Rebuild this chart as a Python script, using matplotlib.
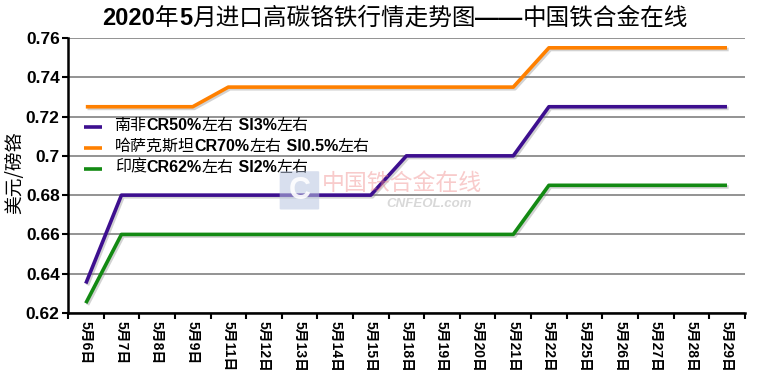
import re
import matplotlib
matplotlib.use("Agg")
import matplotlib.pyplot as plt
import matplotlib.patheffects as pe
from matplotlib.patches import FancyBboxPatch
from matplotlib.lines import Line2D
from matplotlib.offsetbox import TextArea, HPacker, VPacker, DrawingArea, AnchoredOffsetbox

plt.rcParams['font.family'] = ['Liberation Sans', 'Noto Sans CJK SC', 'DejaVu Sans']

dates = ["5月6日", "5月7日", "5月8日", "5月9日", "5月11日", "5月12日", "5月13日",
         "5月14日", "5月15日", "5月18日", "5月19日", "5月20日", "5月21日", "5月22日",
         "5月25日", "5月26日", "5月27日", "5月28日", "5月29日"]
south_africa = [0.635, 0.68, 0.68, 0.68, 0.68, 0.68, 0.68, 0.68, 0.68, 0.70, 0.70,
                0.70, 0.70, 0.725, 0.725, 0.725, 0.725, 0.725, 0.725]
kazakhstan = [0.725, 0.725, 0.725, 0.725, 0.735, 0.735, 0.735, 0.735, 0.735, 0.735,
              0.735, 0.735, 0.735, 0.755, 0.755, 0.755, 0.755, 0.755, 0.755]
india = [0.625, 0.66, 0.66, 0.66, 0.66, 0.66, 0.66, 0.66, 0.66, 0.66, 0.66, 0.66,
         0.66, 0.685, 0.685, 0.685, 0.685, 0.685, 0.685]
series_labels = ["南非CR50%左右 SI3%左右", "哈萨克斯坦CR70%左右 SI0.5%左右", "印度CR62%左右 SI2%左右"]
colors = ["#3d0f8f", "#ff8000", "#138a13"]
yticks = [0.62, 0.64, 0.66, 0.68, 0.70, 0.72, 0.74, 0.76]
ytick_labels = ["0.62", "0.64", "0.66", "0.68", "0.7", "0.72", "0.74", "0.76"]
title = "2020年5月进口高碳铬铁行情走势图——中国铁合金在线"

CJK = r'[\u3000-\u9fff\uff00-\uffef]'
NONCJK = r'[^\u3000-\u9fff\uff00-\uffef]'


def rich(s, size, color='black'):
    runs = re.findall(CJK + r'+|' + NONCJK + r'+', s)
    kids = []
    for r in runs:
        cjk = bool(re.match(CJK, r))
        props = dict(fontsize=size, color=color,
                     family=['Noto Sans CJK SC'] if cjk else ['Liberation Sans'],
                     fontweight='normal' if cjk else 'bold')
        kids.append(TextArea(r, textprops=props))
    return HPacker(children=kids, align='baseline', pad=0, sep=0)


fig = plt.figure(figsize=(7.6, 3.83), dpi=100)
ax = fig.add_axes([0.0895, 0.1828, 0.8905, 0.718])

x = list(range(len(dates)))
shadow = [pe.SimpleLineShadow(offset=(1.2, -1.2), shadow_color='gray', alpha=0.35), pe.Normal()]
for vals, c in zip([south_africa, kazakhstan, india], colors):
    ax.plot(x, vals, color=c, lw=2.6, solid_capstyle='butt', path_effects=shadow, zorder=3)

ax.set_xlim(-0.5, len(dates) - 0.5)
ax.set_ylim(0.62, 0.76)
ax.set_yticks(yticks)
ax.set_yticklabels(ytick_labels, fontweight='bold', fontsize=12.5)
ax.yaxis.grid(True, color='#808080', lw=1.2)
ax.set_axisbelow(True)

ax.set_xticks([i - 0.5 for i in range(len(dates) + 1)], minor=False)
ax.set_xticklabels([])
ax.set_xticks(x, minor=True)
ax.set_xticklabels(dates, minor=True, rotation=-90, fontsize=10, fontweight='bold',
                   va='top', ha='center')
ax.tick_params(axis='x', which='minor', length=0, pad=6)
ax.tick_params(axis='x', which='major', length=4, width=1.5, direction='out')
ax.tick_params(axis='y', length=4, width=1.5, direction='out', pad=2)

for s in ['top', 'right']:
    ax.spines[s].set_visible(False)
ax.spines['left'].set_linewidth(1.8)
ax.spines['bottom'].set_linewidth(1.8)

ax.set_ylabel("美元/磅铬", fontsize=13.5, family=['Noto Sans CJK SC'], va='center')
ax.yaxis.set_label_coords(-0.079, 0.51)

# title with mixed weights
tbox = AnchoredOffsetbox(loc='center', child=rich(title, 17), pad=0, borderpad=0,
                         frameon=False, bbox_to_anchor=(0.52, 0.953),
                         bbox_transform=fig.transFigure)
fig.add_artist(tbox)

# legend
rows = []
for lab, c in zip(series_labels, colors):
    da = DrawingArea(13, 10, 0, 0)
    da.add_artist(Line2D([0, 13], [4, 4], color=c, lw=2.6, solid_capstyle='butt'))
    rows.append(HPacker(children=[da, rich(lab, 11.5)], align='center', pad=0, sep=9))
leg = AnchoredOffsetbox(loc='upper left', child=VPacker(children=rows, align='left', pad=0, sep=2.8),
                        pad=0, borderpad=0, frameon=False,
                        bbox_to_anchor=(84 / 760, 1 - 117 / 383),
                        bbox_transform=fig.transFigure)
ax.add_artist(leg)

# watermark
fig.text(0.529, 0.522, "中国铁合金在线", ha='center', va='center', fontsize=16.5,
         color='#f08c8c', alpha=0.45, family=['Noto Sans CJK SC'], zorder=5)
fig.text(0.565, 0.468, "CNFEOL.com", ha='center', va='center', fontsize=9.5,
         color='#c8c8c8', alpha=0.7, style='italic', fontweight='bold', zorder=5)
box = FancyBboxPatch((0.370, 0.455), 0.048, 0.096, boxstyle="round,pad=0.002",
                     transform=fig.transFigure, facecolor='#b9c6e0', edgecolor='none',
                     alpha=0.55, zorder=5)
fig.add_artist(box)
fig.text(0.394, 0.502, "C", ha='center', va='center', fontsize=22, color='white',
         fontweight='bold', alpha=0.9, zorder=6)

fig.savefig("out.png", dpi=100)
